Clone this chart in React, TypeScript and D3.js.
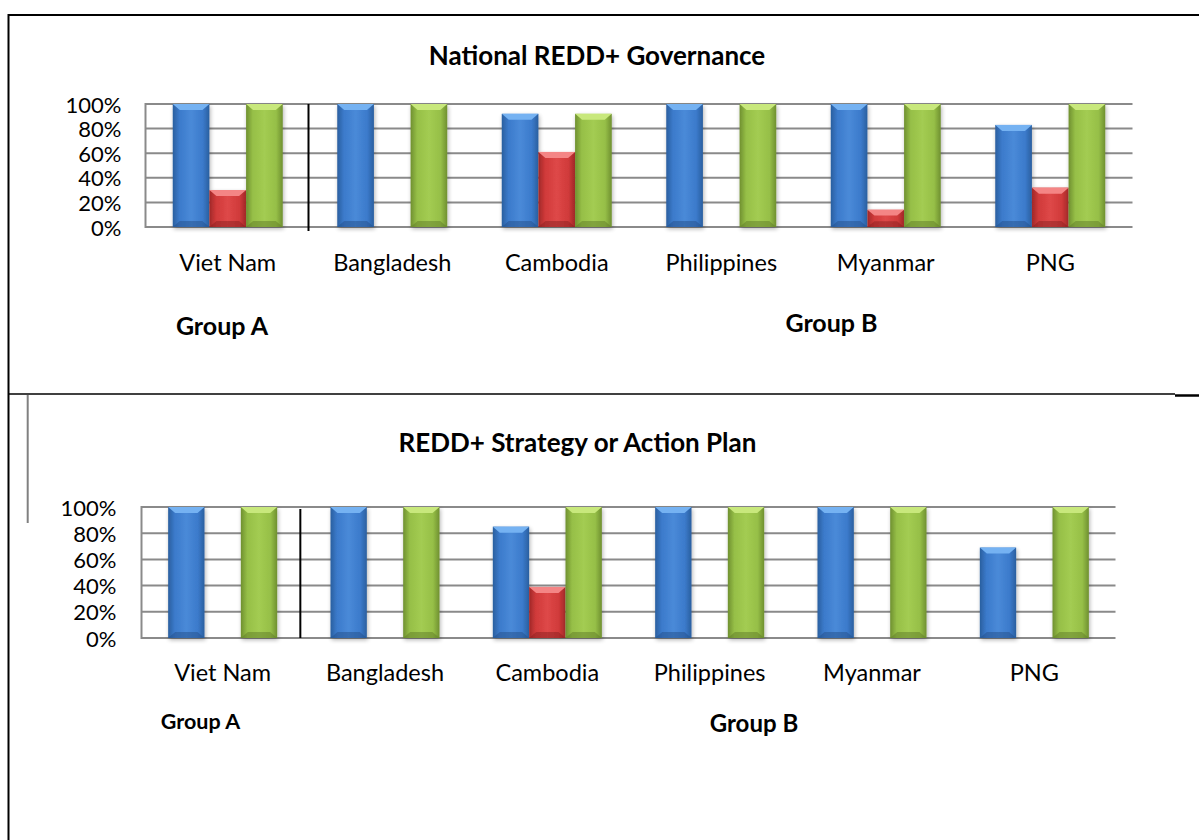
import React from "react";
import * as d3 from "d3";

// ---------- data ----------
const categories = ["Viet Nam", "Bangladesh", "Cambodia", "Philippines", "Myanmar", "PNG"];
const seriesNames = ["Blue", "Red", "Green"];

const governanceBlue = [100, 100, 92, 100, 100, 83];
const governanceRed = [30, 0, 61, 0, 14, 32];
const governanceGreen = [100, 100, 92, 100, 100, 100];

const strategyBlue = [100, 100, 85, 100, 100, 69];
const strategyRed = [0, 0, 39, 0, 0, 0];
const strategyGreen = [100, 100, 100, 100, 100, 100];

const yTicks = [0, 20, 40, 60, 80, 100];
const titles = ["National REDD+ Governance", "REDD+ Strategy or Action Plan"];
const groupLabels = ["Group A", "Group B"];

// ---------- styles ----------
const FONT = "Lato, 'Open Sans', sans-serif";
const palette = {
  Blue: { main: "#3b7acb", light: "#4a8ad8", dark: "#2a5f9f", top: "#74b2f2", bottom: "#24508a" },
  Red: { main: "#d03a3a", light: "#de4848", dark: "#a02828", top: "#f48585", bottom: "#8a2020" },
  Green: { main: "#96bf47", light: "#a3cc52", dark: "#6f9030", top: "#c8e87c", bottom: "#5f7c28" },
};

type Layout = {
  left: number; right: number; top: number; bottom: number; groupFrac: number;
  titleX: number; titleY: number; titleSize: number;
  tickRight: number; tickSize: number; labelY: number; labelSize: number;
  dividerTop: number; dividerBottom: number; dividerShift: number;
  gA: [number, number, number]; gB: [number, number, number];
};

const layouts: Layout[] = [
  {
    left: 145.5, right: 1132.5, top: 104, bottom: 227, groupFrac: 110 / 164.5,
    titleX: 597, titleY: 55, titleSize: 26, tickRight: 121.5, tickSize: 22,
    labelY: 262, labelSize: 23.5,
    dividerTop: 104, dividerBottom: 231, dividerShift: -1.5,
    gA: [222, 325, 25], gB: [831.5, 321.5, 25],
  },
  {
    left: 141.5, right: 1115.5, top: 507, bottom: 638, groupFrac: 109 / 162.3,
    titleX: 577.5, titleY: 442, titleSize: 26, tickRight: 116.5, tickSize: 22,
    labelY: 672, labelSize: 23.5,
    dividerTop: 509, dividerBottom: 638, dividerShift: -3.5,
    gA: [200.5, 721, 21.5], gB: [754, 722, 24],
  },
];

function Chart({ idx, blue, red, green }: { idx: number; blue: number[]; red: number[]; green: number[] }) {
  const L = layouts[idx];
  const values: Record<string, number[]> = { Blue: blue, Red: red, Green: green };
  const pad = 1 - L.groupFrac;
  const x = d3.scaleBand<string>().domain(categories).range([L.left, L.right]).paddingInner(pad).paddingOuter(pad / 2);
  const inner = d3.scaleBand<string>().domain(seriesNames).range([0, x.bandwidth()]).padding(0);
  const y = d3.scaleLinear().domain([0, 100]).range([L.bottom, L.top]);
  const gid = `c${idx}`;
  const divX = (x(categories[0]) as number) + x.bandwidth() + (x.step() - x.bandwidth()) / 2 + L.dividerShift;

  return (
    <g>
      <defs>
        {seriesNames.map((s) => {
          const p = (palette as any)[s];
          return (
            <linearGradient key={s} id={`${gid}-${s}`} x1="0" x2="1" y1="0" y2="0">
              <stop offset="0" stopColor={p.dark} />
              <stop offset="0.18" stopColor={p.main} />
              <stop offset="0.5" stopColor={p.light} />
              <stop offset="0.82" stopColor={p.main} />
              <stop offset="1" stopColor={p.dark} />
            </linearGradient>
          );
        })}
        <filter id={`${gid}-shadow`} x="-30%" y="-10%" width="160%" height="130%">
          <feGaussianBlur in="SourceAlpha" stdDeviation="2" />
          <feOffset dx="1" dy="2" result="b" />
          <feComponentTransfer><feFuncA type="linear" slope="0.3" /></feComponentTransfer>
          <feMerge><feMergeNode /><feMergeNode in="SourceGraphic" /></feMerge>
        </filter>
      </defs>

      <text x={L.titleX} y={L.titleY} textAnchor="middle" dominantBaseline="central"
        fontFamily={FONT} fontWeight={700} fontSize={L.titleSize} fill="#000">{titles[idx]}</text>

      {/* gridlines */}
      {yTicks.map((t) => (
        <line key={t} x1={L.left} x2={L.right} y1={y(t)} y2={y(t)} stroke="#8a8a8a" strokeWidth={2} />
      ))}
      <line x1={L.left} x2={L.left} y1={L.top - 1} y2={L.bottom + 1} stroke="#8a8a8a" strokeWidth={2} />

      {/* tick labels */}
      {yTicks.map((t) => (
        <text key={t} x={L.tickRight} y={y(t)} textAnchor="end" dominantBaseline="central"
          fontFamily={FONT} fontSize={L.tickSize} fill="#000">{`${t}%`}</text>
      ))}

      {/* bars */}
      {categories.map((c, i) => (
        <g key={c} filter={`url(#${gid}-shadow)`}>
          {seriesNames.map((s) => {
            const v = values[s][i];
            if (v <= 0) return null;
            const x0 = (x(c) as number) + (inner(s) as number);
            const w = inner.bandwidth();
            const yt = y(v);
            const yb = y(0);
            const bev = Math.min(6, (yb - yt) / 3);
            const p = (palette as any)[s];
            return (
              <g key={s}>
                <rect x={x0} y={yt} width={w} height={yb - yt} fill={`url(#${gid}-${s})`} />
                <polygon points={`${x0},${yt} ${x0 + w},${yt} ${x0 + w - 7},${yt + bev} ${x0 + 7},${yt + bev}`}
                  fill={p.top} />
                <polygon points={`${x0},${yb} ${x0 + w},${yb} ${x0 + w - 7},${yb - bev} ${x0 + 7},${yb - bev}`}
                  fill={p.bottom} opacity={0.5} />
              </g>
            );
          })}
        </g>
      ))}

      {/* divider */}
      <line x1={divX} x2={divX} y1={L.dividerTop} y2={L.dividerBottom} stroke="#000" strokeWidth={2} />

      {/* category labels */}
      {categories.map((c) => (
        <text key={c} x={(x(c) as number) + x.bandwidth() / 2} y={L.labelY} textAnchor="middle" dominantBaseline="central"
          fontFamily={FONT} fontSize={L.labelSize} fill="#000">{c}</text>
      ))}

      <text x={L.gA[0]} y={L.gA[1]} textAnchor="middle" dominantBaseline="central"
        fontFamily={FONT} fontWeight={700} fontSize={L.gA[2]} fill="#000">{groupLabels[0]}</text>
      <text x={L.gB[0]} y={L.gB[1]} textAnchor="middle" dominantBaseline="central"
        fontFamily={FONT} fontWeight={700} fontSize={L.gB[2]} fill="#000">{groupLabels[1]}</text>
    </g>
  );
}

export default function App() {
  return (
    <svg width={1199} height={840} style={{ position: "absolute", left: 0, top: 0, background: "#fff" }}>
      <rect x={0} y={0} width={1199} height={840} fill="#fff" />
      {/* frame */}
      <line x1={8} x2={1199} y1={15} y2={15} stroke="#000" strokeWidth={2} />
      <line x1={8.5} x2={8.5} y1={14} y2={840} stroke="#000" strokeWidth={2} />
      <line x1={8} x2={1175} y1={394} y2={394} stroke="#000" strokeWidth={1.5} />
      <line x1={1175} x2={1199} y1={395.5} y2={395.5} stroke="#000" strokeWidth={2.5} />
      <line x1={27.7} x2={27.7} y1={395} y2={523} stroke="#808080" strokeWidth={2} />
      <Chart idx={0} blue={governanceBlue} red={governanceRed} green={governanceGreen} />
      <Chart idx={1} blue={strategyBlue} red={strategyRed} green={strategyGreen} />
    </svg>
  );
}
